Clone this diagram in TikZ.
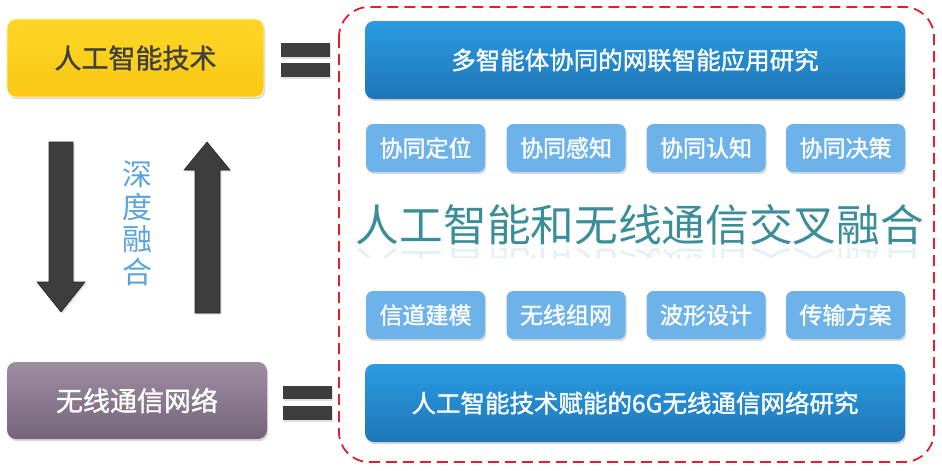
\documentclass[tikz,border=0pt]{standalone}
\usepackage{fontspec}
\setmainfont{Noto Sans CJK SC}
\newfontfamily\medfont{Noto Sans CJK SC}[FakeBold=1.3]
\usetikzlibrary{shadows,fadings}
\definecolor{yellowA}{HTML}{FFD626}
\definecolor{yellowB}{HTML}{F8C814}
\definecolor{purpA}{HTML}{9E8CA2}
\definecolor{purpB}{HTML}{75657B}
\definecolor{blueA}{HTML}{2A9CE2}
\definecolor{blueB}{HTML}{1F76B6}
\definecolor{lblue}{HTML}{6DB3EA}
\definecolor{darkg}{HTML}{3D3D3D}
\definecolor{txtg}{HTML}{404040}
\definecolor{dashred}{HTML}{E0202C}
\definecolor{tealt}{HTML}{3B8E99}
\definecolor{fusec}{HTML}{5BA4DA}
\tikzset{
  boxbase/.style={rounded corners=9pt, inner sep=0pt,
    drop shadow={opacity=0.3, shadow xshift=1.2pt, shadow yshift=-2.2pt}},
  ybox/.style={boxbase, top color=yellowA, bottom color=yellowB, draw=white!70!yellowA, line width=0.8pt,
    text=txtg, minimum width=257pt, minimum height=78pt, font=\medfont\fontsize{27}{27}\selectfont},
  pbox/.style={boxbase, top color=purpA, bottom color=purpB,
    text=white, minimum width=260pt, minimum height=77pt, font=\medfont\fontsize{27}{27}\selectfont},
  bbox/.style={boxbase, top color=blueA, bottom color=blueB,
    text=white, minimum width=540pt, minimum height=78pt, font=\medfont\fontsize{24.5}{24.5}\selectfont},
  sbox/.style={boxbase, rounded corners=7pt, fill=lblue,
    text=white, minimum width=119pt, minimum height=48pt, font=\medfont\fontsize{23}{23}\selectfont},
  eqbar/.style={fill=darkg, drop shadow={opacity=0.25, shadow xshift=1pt, shadow yshift=-1.5pt}},
  bigarrow/.style={fill=darkg, draw=black!85, line width=0.6pt,
    drop shadow={opacity=0.25, shadow xshift=1.5pt, shadow yshift=-1.5pt}},
  titlefont/.style={font=\fontsize{43.7}{43.7}\selectfont, text=tealt, inner sep=0pt}
}
\begin{document}
\begin{tikzpicture}[x=1pt,y=-1pt]
\useasboundingbox (0,0) rectangle (942,471);
% left boxes
\node[ybox] (ai) at (135.5,58) {人工智能技术};
\node[pbox] (wn) at (137,400.5) {无线通信网络};
% equals signs
\fill[eqbar] (281,43) rectangle (330,57);
\fill[eqbar] (281,63) rectangle (330,77);
\fill[eqbar] (283,386) rectangle (332,399);
\fill[eqbar] (283,406) rectangle (332,420);
% arrows
\path[bigarrow] (49,142) -- (73,142) -- (73,282) -- (85,282) -- (61,312) -- (37,282) -- (49,282) -- cycle;
\path[bigarrow] (195,313) -- (220,313) -- (220,170) -- (230,170) -- (207,142) -- (184,170) -- (195,170) -- cycle;
\node[font=\fontsize{30}{32.5}\selectfont, text=fusec, align=center, inner sep=0pt] (fuse) at (137,223) {深\\度\\融\\合};
% dashed frame
\draw[dashred, line width=1.8pt, dash pattern=on 11pt off 6pt, rounded corners=30pt] (339,7) rectangle (934,462);
% blue boxes
\node[bbox] (top) at (635,60) {多智能体协同的网联智能应用研究};
\node[bbox] (bot) at (635,403) {人工智能技术赋能的6G无线通信网络研究};
% small boxes
\node[sbox] (s1) at (425.5,148) {协同定位};
\node[sbox] (s2) at (566,148) {协同感知};
\node[sbox] (s3) at (706,148) {协同认知};
\node[sbox] (s4) at (845.5,148) {协同决策};
\node[sbox] (t1) at (425.5,315) {信道建模};
\node[sbox] (t2) at (566,315) {无线组网};
\node[sbox] (t3) at (706,315) {波形设计};
\node[sbox] (t4) at (845.5,315) {传输方案};
% title with reflection
\node[titlefont] (title) at (640,224.5) {人工智能和无线通信交叉融合};
\begin{scope}
\clip (345,246) rectangle (930,257);
\node[titlefont, yscale=-1, transform shape, opacity=0.12] (titlerefl) at (640,268.5) {人工智能和无线通信交叉融合};
\end{scope}
\end{tikzpicture}
\end{document}
